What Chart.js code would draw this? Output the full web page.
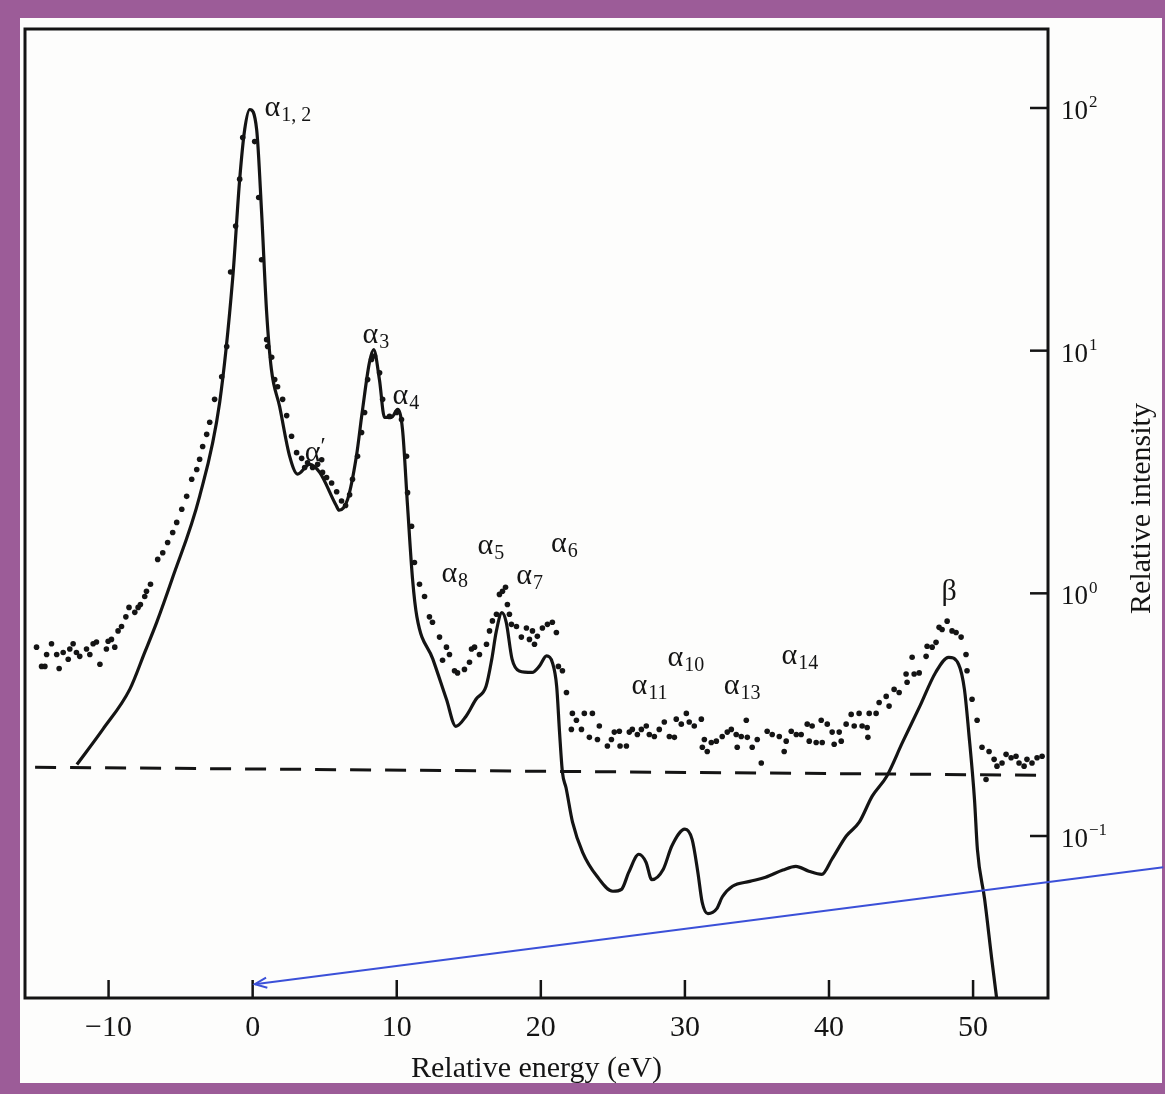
<!DOCTYPE html>
<html>
<head>
<meta charset="utf-8">
<title>Relative intensity vs relative energy</title>
<script src="https://cdn.jsdelivr.net/npm/chart.js@4.4.1/dist/chart.umd.min.js"></script>
<style>
    html, body { margin: 0; padding: 0; }
    body { width: 1165px; height: 1094px; background: #9c5c98; position: relative; overflow: hidden; }
    #paper { position: absolute; left: 20px; top: 18px; width: 1142px; height: 1065px; background: #fdfdfc; }
    #spectrum { position: absolute; left: 0; top: 0; }
</style>
</head>
<body>
<div id="paper"></div>
<canvas id="spectrum" width="1165" height="1094"></canvas>
<script>
// measured points (dots)
var dotEnergy = [
    -15.0, -14.65, -14.42, -14.3, -13.96, -13.6, -13.43, -13.15, -12.8, -12.69,
    -12.46, -12.23, -12.0, -11.53, -11.3, -11.07, -10.84, -10.6, -10.15, -10.03,
    -9.8, -9.57, -9.34, -9.1, -8.8, -8.58, -8.18, -7.95, -7.79, -7.49,
    -7.37, -7.09, -6.59, -6.24, -5.9, -5.55, -5.27, -4.92, -4.58, -4.23,
    -3.88, -3.68, -3.47, -3.19, -2.98, -2.64,
    -2.15, -1.8, -1.53, -1.18, -0.9, -0.69, 0.14, 0.42, 0.62, 0.97,
    1.04, 1.32, 1.53, 1.73, 2.08, 2.36, 2.7, 3.05, 3.4, 3.61,
    3.81, 4.16, 4.51, 4.79, 4.85, 5.13, 5.48, 5.83, 6.17, 6.45,
    6.73, 6.93, 7.28, 7.56, 7.77, 7.98, 8.25, 8.46, 8.81, 9.02,
    9.5, 9.99, 10.33, 10.68, 10.75, 11.03,
    11.23, 11.58, 11.93, 12.27, 12.48, 12.97, 13.18, 13.45, 13.66, 14.01,
    14.22, 14.7, 15.05, 15.19, 15.4, 15.74, 16.23, 16.44, 16.64, 16.92,
    17.13, 17.34, 17.55, 17.68, 17.82, 17.96, 18.31, 18.65, 19.0, 19.21,
    19.42, 19.56, 19.76, 20.11, 20.46, 20.8, 21.08, 21.22, 21.5, 21.78,
    22.12, 22.19, 22.47, 22.82, 23.02, 23.37, 23.58, 23.93, 24.06, 24.62,
    24.9, 25.1, 25.45, 25.5, 25.94, 26.14, 26.35, 26.7, 26.98, 27.32,
    27.53, 27.88, 28.22, 28.57, 28.92, 29.27, 29.4, 29.75, 30.1, 30.3,
    30.65, 31.14, 31.21, 31.35, 31.55, 31.83, 32.18, 32.59, 32.94, 33.22,
    33.56, 33.63, 33.91, 34.26, 34.33, 34.67, 35.02, 35.3, 35.71, 36.06,
    36.55,
    36.89, 37.03, 37.38, 37.73, 38.07, 38.49, 38.63, 38.83, 39.11, 39.46,
    39.53, 39.88, 40.22, 40.36, 40.71, 40.85, 41.19, 41.54, 41.75, 42.09,
    42.3, 42.65, 42.7, 42.79, 43.27, 43.48, 43.97, 44.17, 44.52, 44.87,
    45.35, 45.42, 45.77, 45.91, 46.26, 46.74, 46.81, 47.16, 47.43, 47.64,
    47.85, 48.2, 48.54, 48.82, 49.17, 49.51, 49.58, 49.93, 50.28, 50.62,
    50.9, 51.11, 51.46, 51.66, 52.01, 52.29, 52.64, 52.98, 53.19, 53.54,
    53.74, 54.09, 54.44, 54.79
];
var dotIntensity = [
    0.60, 0.50, 0.50, 0.56, 0.62, 0.56, 0.49, 0.57, 0.535, 0.59,
    0.62, 0.57, 0.55, 0.59, 0.56, 0.62, 0.63, 0.51, 0.59, 0.635,
    0.646, 0.60, 0.70, 0.73, 0.80, 0.875, 0.835, 0.875, 0.90, 0.97,
    1.02, 1.09, 1.38, 1.47, 1.62, 1.78, 1.96, 2.22, 2.51, 2.95,
    3.24, 3.57, 4.03, 4.52, 5.07, 6.3,
    7.8, 10.4, 21.1, 32.6, 50.9, 75.6, 72.7, 42.8, 23.7, 11.1,
    10.4, 9.4, 7.6, 7.1, 6.3, 5.4, 4.44, 3.8, 3.6, 3.3,
    3.45, 3.3, 3.4, 3.55, 3.15, 3.0, 2.85, 2.62, 2.4, 2.3,
    2.55, 2.95, 3.67, 4.6, 5.56, 7.6, 9.2, 9.5, 8.1, 6.3,
    5.36, 5.56, 5.2, 3.67, 2.6, 1.89,
    1.34, 1.09, 0.97, 0.80, 0.76, 0.66, 0.53, 0.60, 0.56, 0.48,
    0.47, 0.486, 0.52, 0.59, 0.60, 0.56, 0.617, 0.70, 0.77, 0.82,
    0.99, 1.02, 1.06, 0.90, 0.82, 0.745, 0.73, 0.66, 0.72, 0.646,
    0.70, 0.617, 0.665, 0.72, 0.745, 0.76, 0.69, 0.50, 0.48, 0.39,
    0.275, 0.32, 0.30, 0.275, 0.32, 0.255, 0.32, 0.25, 0.284, 0.235,
    0.25, 0.268, 0.27, 0.235, 0.235, 0.268, 0.275, 0.262, 0.275, 0.284,
    0.262, 0.257, 0.275, 0.295, 0.257, 0.255, 0.303, 0.289, 0.32, 0.295,
    0.284, 0.303, 0.232, 0.25, 0.223, 0.243, 0.246, 0.257, 0.268, 0.275,
    0.262, 0.232, 0.257, 0.30, 0.255, 0.232, 0.25, 0.20, 0.27, 0.262,
    0.257,
    0.223, 0.246, 0.27, 0.262, 0.262, 0.289, 0.246, 0.284, 0.243, 0.30,
    0.243, 0.289, 0.268, 0.239, 0.268, 0.246, 0.289, 0.317, 0.284, 0.32,
    0.284, 0.28, 0.255, 0.32, 0.32, 0.355, 0.376, 0.343, 0.402, 0.39,
    0.465, 0.43, 0.545, 0.465, 0.47, 0.55, 0.605, 0.60, 0.628, 0.724,
    0.71, 0.768, 0.70, 0.69, 0.66, 0.56, 0.48, 0.366, 0.30, 0.232,
    0.171, 0.223, 0.207, 0.194, 0.20, 0.217, 0.21, 0.213, 0.20, 0.194,
    0.207, 0.20, 0.21, 0.213
];

// solid curve
var curveEnergy = [
    -12.2, -10.4, -8.53, -7.49, -6.66, -5.6, -3.68, -2.29, -1.39, -0.9,
    -0.55, -0.2, 0.28, 0.62, 0.97, 1.3, 1.87, 2.57, 3.12, 3.95,
    4.65, 5.8, 6.0, 6.6, 7.2, 7.6, 8.1, 8.4, 8.8, 9.15,
    9.64, 10.06, 10.4, 10.75, 11.1, 11.4, 12.5, 13.45, 14.1, 14.8,
    15.5, 16.2, 16.6, 16.9, 17.3, 17.6, 18.0, 18.5, 19.4, 19.9,
    20.4, 20.8, 21.1, 21.3, 21.5, 21.75, 22.2, 22.9, 23.9, 25.0,
    25.6, 26.1, 26.8, 27.3, 27.7, 28.5, 29.1, 30.0, 30.5, 30.9,
    31.2, 31.6, 32.2, 32.6, 33.3, 34.5, 35.6, 36.8, 37.7, 38.6,
    39.5, 40.2, 41.2, 42.1, 43.0, 44.0, 45.1, 46.3, 47.4, 48.3,
    49.0, 49.4, 49.7, 50.1, 50.3, 50.8, 51.3, 51.7
];
var curveIntensity = [
    0.197, 0.275, 0.402, 0.571, 0.759, 1.14, 2.51, 6.12, 19.7, 50.8,
    81.7, 98.6, 81.3, 37.2, 14.4, 8.38, 5.89, 3.67, 3.1, 3.4,
    3.15, 2.3, 2.2, 2.45, 3.67, 5.56, 8.91, 10.1, 7.59, 5.31,
    5.31, 5.73, 4.74, 2.29, 1.14, 0.80, 0.537, 0.366, 0.283, 0.311,
    0.366, 0.414, 0.537, 0.692, 0.832, 0.759, 0.537, 0.479, 0.472, 0.501,
    0.552, 0.519, 0.414, 0.267, 0.183, 0.158, 0.114, 0.0857, 0.0682, 0.0592,
    0.0603, 0.0708, 0.0841, 0.078, 0.0661, 0.073, 0.0912, 0.1067, 0.0968, 0.0708,
    0.0533, 0.0479, 0.0501, 0.0562, 0.0621, 0.065, 0.0676, 0.0724, 0.075, 0.0716,
    0.0695, 0.0802, 0.100, 0.114, 0.146, 0.176, 0.243, 0.342, 0.472, 0.545,
    0.509, 0.402, 0.267, 0.141, 0.0881, 0.055, 0.031, 0.02
];

// dashed background line
var baseEnergy = [-15.1, 54.7];
var baseIntensity = [0.192, 0.178];

var xTickValues = [-10, 0, 10, 20, 30, 40, 50];
var yTickValues = [0.1, 1, 10, 100];

var peakLabels = [
    { name: 'α', sub: '1, 2', x: 0.83, y: 92.3 },
    { name: 'α', sub: '3', x: 7.63, y: 10.8 },
    { name: 'α', sub: '4', x: 9.71, y: 6.0 },
    { name: 'α', sup: '′', x: 3.61, y: 3.5 },
    { name: 'α', sub: '5', x: 15.6, y: 1.45 },
    { name: 'α', sub: '6', x: 20.7, y: 1.48 },
    { name: 'α', sub: '8', x: 13.1, y: 1.11 },
    { name: 'α', sub: '7', x: 18.3, y: 1.09 },
    { name: 'α', sub: '10', x: 28.8, y: 0.50 },
    { name: 'α', sub: '11', x: 26.3, y: 0.384 },
    { name: 'α', sub: '13', x: 32.7, y: 0.384 },
    { name: 'α', sub: '14', x: 36.7, y: 0.51 },
    { name: 'β', x: 47.8, y: 0.935 }
];

var serif = "'Liberation Serif', 'Times New Roman', serif";
var ink = '#141414';

function toPoints(xs, ys) {
    var pts = [];
    for (var i = 0; i < xs.length; i++) {
        pts.push({ x: xs[i], y: ys[i] });
    }
    return pts;
}

function supText(n) {
    return n < 0 ? '\u2212' + Math.abs(n) : String(n);
}

// frame, inner ticks, labels and the blue arrow
var decorPlugin = {
    id: 'decor',
    afterDraw: function (chart) {
        var ctx = chart.ctx;
        var a = chart.chartArea;
        var xs = chart.scales.x;
        var ys = chart.scales.y;
        ctx.save();
        ctx.strokeStyle = ink;
        ctx.fillStyle = ink;
        ctx.lineWidth = 3;
        ctx.strokeRect(a.left, a.top, a.right - a.left, a.bottom - a.top);

        ctx.lineWidth = 2.5;
        xTickValues.forEach(function (v) {
            var px = xs.getPixelForValue(v);
            ctx.beginPath();
            ctx.moveTo(px, a.bottom);
            ctx.lineTo(px, a.bottom - 18);
            ctx.stroke();
        });
        yTickValues.forEach(function (v) {
            var py = ys.getPixelForValue(v);
            ctx.beginPath();
            ctx.moveTo(a.right, py);
            ctx.lineTo(a.right - 18, py);
            ctx.stroke();
            // 10 with exponent
            ctx.textAlign = 'left';
            ctx.textBaseline = 'middle';
            ctx.font = '27px ' + serif;
            ctx.fillText('10', a.right + 13, py + 4);
            var w = ctx.measureText('10').width;
            ctx.font = '17px ' + serif;
            ctx.fillText(supText(Math.round(Math.log10(v))), a.right + 14 + w, py - 5);
        });

        // y axis title, reading upwards
        ctx.save();
        ctx.translate(a.right + 94, (a.top + a.bottom) / 2 - 5);
        ctx.rotate(-Math.PI / 2);
        ctx.textAlign = 'center';
        ctx.textBaseline = 'middle';
        ctx.font = '30px ' + serif;
        ctx.fillText('Relative intensity', 0, 0);
        ctx.restore();

        // peak names
        ctx.textAlign = 'left';
        ctx.textBaseline = 'alphabetic';
        peakLabels.forEach(function (p) {
            var px = xs.getPixelForValue(p.x);
            var py = ys.getPixelForValue(p.y);
            ctx.font = '30px ' + serif;
            ctx.fillText(p.name, px, py);
            var w = ctx.measureText(p.name).width;
            if (p.sub) {
                ctx.font = '20px ' + serif;
                ctx.fillText(p.sub, px + w + 1, py + 5);
            }
            if (p.sup) {
                ctx.font = '24px ' + serif;
                ctx.fillText(p.sup, px + w, py - 8);
            }
        });

        // blue pointer to the zero tick
        var tx = xs.getPixelForValue(0.15), ty = ys.getPixelForValue(0.0245);
        var sx = xs.getPixelForValue(63.2), sy = ys.getPixelForValue(0.0743);
        ctx.strokeStyle = '#3b50d8';
        ctx.lineWidth = 2;
        ctx.beginPath();
        ctx.moveTo(sx, sy);
        ctx.lineTo(tx, ty);
        ctx.stroke();
        var ang = Math.atan2(ty - sy, tx - sx);
        ctx.beginPath();
        ctx.moveTo(tx - 13 * Math.cos(ang - 0.4), ty - 13 * Math.sin(ang - 0.4));
        ctx.lineTo(tx, ty);
        ctx.lineTo(tx - 13 * Math.cos(ang + 0.4), ty - 13 * Math.sin(ang + 0.4));
        ctx.stroke();
        ctx.restore();
    }
};

var spectrumChart = new Chart(document.getElementById('spectrum'), {
    type: 'scatter',
    data: {
        datasets: [{
            label: 'measured',
            data: toPoints(dotEnergy, dotIntensity),
            showLine: false,
            pointRadius: 2.8,
            pointBackgroundColor: ink,
            pointBorderWidth: 0
        }, {
            label: 'calculated',
            data: toPoints(curveEnergy, curveIntensity),
            showLine: true,
            borderColor: ink,
            borderWidth: 3.2,
            pointRadius: 0,
            cubicInterpolationMode: 'monotone'
        }, {
            label: 'background',
            data: toPoints(baseEnergy, baseIntensity),
            showLine: true,
            borderColor: ink,
            borderWidth: 3,
            borderDash: [21, 14],
            pointRadius: 0
        }]
    },
    options: {
        responsive: false,
        animation: false,
        devicePixelRatio: 1,
        layout: { padding: { left: 25, top: 29, right: 0, bottom: 0 } },
        plugins: { legend: { display: false }, tooltip: { enabled: false } },
        scales: {
            x: {
                type: 'linear',
                position: 'bottom',
                min: -15.8,
                max: 55.2,
                afterBuildTicks: function (s) {
                    s.ticks = xTickValues.map(function (v) { return { value: v }; });
                },
                afterFit: function (s) { s.height = 96; },
                grid: { display: false, drawTicks: false },
                border: { display: false },
                ticks: {
                    color: ink,
                    font: { family: serif, size: 30 },
                    padding: 12,
                    maxRotation: 0,
                    callback: function (v) { return supText(v); }
                },
                title: {
                    display: true,
                    text: 'Relative energy (eV)',
                    color: ink,
                    font: { family: serif, size: 30 },
                    padding: { top: 0, bottom: 7 }
                }
            },
            y: {
                type: 'logarithmic',
                position: 'right',
                min: 0.0215,
                max: 211.6,
                afterBuildTicks: function (s) {
                    s.ticks = yTickValues.map(function (v) { return { value: v }; });
                },
                afterFit: function (s) { s.width = 117; },
                grid: { display: false, drawTicks: false },
                border: { display: false },
                ticks: { display: false }
            }
        }
    },
    plugins: [decorPlugin]
});
</script>
</body>
</html>
